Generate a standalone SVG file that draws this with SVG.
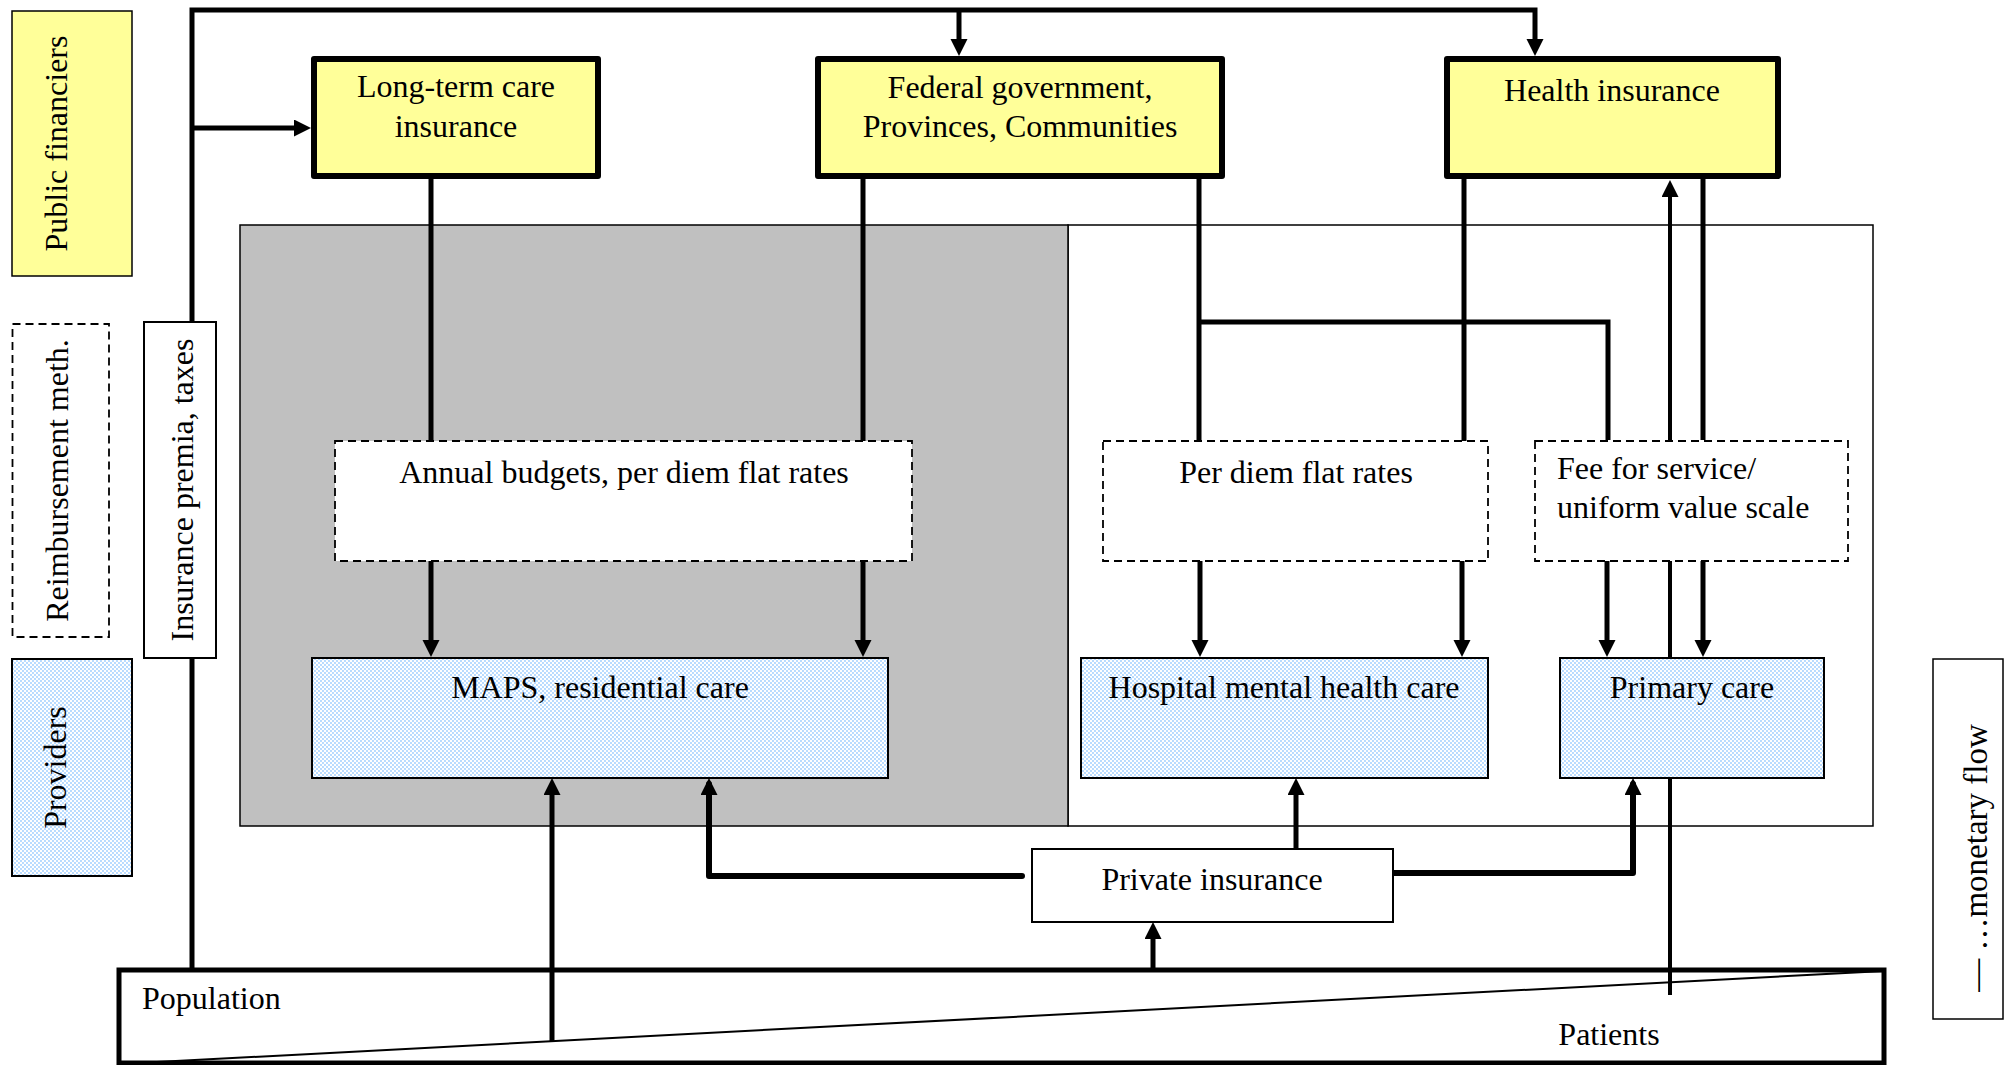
<svg xmlns="http://www.w3.org/2000/svg" width="2010" height="1065" viewBox="0 0 2010 1065">
<defs>
<pattern id="dots" width="4" height="4" patternUnits="userSpaceOnUse">
<rect width="4" height="4" fill="#ffffff"/>
<circle cx="1" cy="1" r="0.9" fill="#99CCFF"/>
<circle cx="3" cy="3" r="0.9" fill="#99CCFF"/>
</pattern>
<marker id="arr" markerUnits="userSpaceOnUse" markerWidth="18" markerHeight="18" viewBox="0 0 18 18" refX="11" refY="8.5" orient="auto">
<path d="M0,0 L17,8.5 L0,17 z" fill="#000"/>
</marker>
<style>
text{font-family:"Liberation Serif","Times New Roman",serif;font-size:32px;fill:#000}
.c{text-anchor:middle}
.fin{fill:#FFFF99;stroke:#000;stroke-width:6;stroke-linejoin:round}
.leg{stroke:#000;stroke-width:1.5}
.dash{fill:#fff;stroke:#000;stroke-width:1.8;stroke-dasharray:8 5}
.prov{fill:url(#dots);stroke:#000;stroke-width:2}
.plain{fill:#fff;stroke:#000;stroke-width:2}
.ln{fill:none;stroke:#000;stroke-width:5}
.ln2{fill:none;stroke:#000;stroke-width:6;stroke-linecap:round;stroke-linejoin:round}
.ln3{fill:none;stroke:#000;stroke-width:4}
.a{marker-end:url(#arr)}
</style>
</defs>
<rect width="2010" height="1065" fill="#ffffff"/>

<g id="legend-public-financiers">
<rect x="12" y="11" width="120" height="265" fill="#FFFF99" class="leg"/>
<text class="c" transform="translate(67,143.5) rotate(-90)">Public financiers</text>
</g>
<g id="legend-reimbursement">
<rect x="12.5" y="324" width="96.5" height="313" class="dash"/>
<text class="c" transform="translate(68,480.5) rotate(-90)">Reimbursement meth.</text>
</g>
<g id="legend-providers">
<rect x="12" y="659" width="120" height="217" class="prov"/>
<text class="c" transform="translate(66,767.5) rotate(-90)">Providers</text>
</g>
<g id="legend-monetary-flow">
<rect x="1933" y="659" width="70" height="360" fill="#fff" class="leg"/>
<text class="c" style="font-size:33px" transform="translate(1987,858) rotate(-90)">— …monetary flow</text>
</g>

<g id="panel-longterm">
<rect x="1068" y="225" width="805" height="601" fill="#fff" stroke="#000" stroke-width="1.5"/>
<rect x="240" y="225" width="828" height="601" fill="#C0C0C0" stroke="#000" stroke-width="1.5"/>
</g>

<g id="population">
<rect x="119" y="970" width="1765" height="93" fill="#fff" stroke="#000" stroke-width="5"/>
<line x1="119" y1="1064" x2="1884" y2="971" stroke="#000" stroke-width="2"/>
<text x="142" y="1009">Population</text>
<text class="c" x="1609" y="1045">Patients</text>
</g>

<g id="connectors">
<path class="ln a" d="M192,970 V10 H1535 V50"/>
<path class="ln a" d="M959,10 V50"/>
<path class="ln a" d="M192,128 H305"/>
<path class="ln" d="M431,179 V441"/>
<path class="ln a" d="M431,561 V651"/>
<path class="ln" d="M863,179 V441"/>
<path class="ln a" d="M863,561 V651"/>
<path class="ln" d="M1199,179 V441"/>
<path class="ln" d="M1199,322 H1608 V440"/>
<path class="ln a" d="M1200,561 V651"/>
<path class="ln" d="M1464,179 V441"/>
<path class="ln a" d="M1462,561 V651"/>
<path class="ln" d="M1703,179 V440"/>
<path class="ln a" d="M1703,561 V651"/>
<path class="ln a" d="M1607,561 V651"/>
<path class="ln3 a" d="M1670,995 V186"/>
<path class="ln a" d="M1296,849 V784"/>
<path class="ln2 a" d="M1393,873 H1633 V784"/>
<path class="ln2 a" d="M1022,876 H709 V784"/>
<path class="ln a" d="M1153,970 V928"/>
<path class="ln a" d="M552,1042 V784"/>
</g>

<g id="insurance-premia">
<rect x="144" y="322" width="72" height="336" class="plain"/>
<text class="c" transform="translate(193,490) rotate(-90)">Insurance premia, taxes</text>
</g>

<g id="ltc-insurance">
<rect x="314" y="59" width="284" height="117" class="fin"/>
<text class="c" x="456" y="97">Long-term care</text>
<text class="c" x="456" y="137">insurance</text>
</g>
<g id="federal-government">
<rect x="818" y="59" width="404" height="117" class="fin"/>
<text class="c" x="1020" y="98">Federal government,</text>
<text class="c" x="1020" y="137">Provinces, Communities</text>
</g>
<g id="health-insurance">
<rect x="1447" y="59" width="331" height="117" class="fin"/>
<text class="c" x="1612" y="101">Health insurance</text>
</g>

<g id="annual-budgets">
<rect x="335" y="441" width="577" height="120" class="dash"/>
<text class="c" x="624" y="483">Annual budgets, per diem flat rates</text>
</g>
<g id="per-diem">
<rect x="1103" y="441" width="385" height="120" class="dash"/>
<text class="c" x="1296" y="483">Per diem flat rates</text>
</g>
<g id="fee-for-service">
<rect x="1535" y="441" width="313" height="120" class="dash"/>
<text x="1557" y="479">Fee for service/</text>
<text x="1557" y="518">uniform value scale</text>
</g>

<g id="maps">
<rect x="312" y="658" width="576" height="120" class="prov"/>
<text class="c" x="600" y="698">MAPS, residential care</text>
</g>
<g id="hospital">
<rect x="1081" y="658" width="407" height="120" class="prov"/>
<text class="c" x="1284" y="698">Hospital mental health care</text>
</g>
<g id="primary-care">
<rect x="1560" y="658" width="264" height="120" class="prov"/>
<text class="c" x="1692" y="698">Primary care</text>
</g>

<g id="private-insurance">
<rect x="1032" y="849" width="361" height="73" class="plain"/>
<text class="c" x="1212" y="890">Private insurance</text>
</g>
</svg>
